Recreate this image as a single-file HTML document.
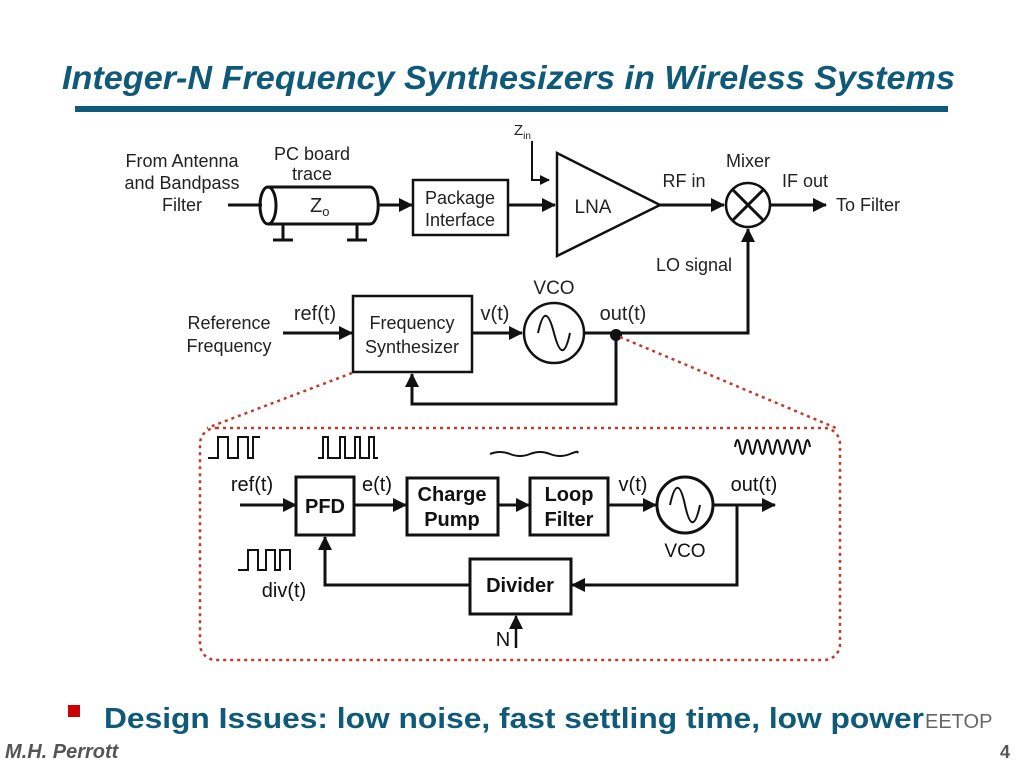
<!DOCTYPE html>
<html><head><meta charset="utf-8"><style>
html,body{margin:0;padding:0;background:#fff;}
svg{display:block;}
text{font-family:"Liberation Sans",Arial,sans-serif;}
</style></head><body>
<svg width="1022" height="764" viewBox="0 0 1022 764" xmlns="http://www.w3.org/2000/svg">
<defs>
<marker id="a" markerWidth="10" markerHeight="10" refX="9" refY="5" orient="auto" markerUnits="userSpaceOnUse"><path d="M0,0 L10,5 L0,10 z" fill="#111"/></marker>
<marker id="b" markerWidth="14" markerHeight="14" refX="13" refY="7" orient="auto" markerUnits="userSpaceOnUse"><path d="M0,0 L14,7 L0,14 z" fill="#111"/></marker>
</defs>
<text x="62" y="89" font-size="33" font-weight="bold" font-style="italic" fill="#0e5a78" textLength="893" lengthAdjust="spacingAndGlyphs">Integer-N Frequency Synthesizers in Wireless Systems</text>
<rect x="75" y="106" width="873" height="6" fill="#0e5a78"/>

<g fill="#222" font-size="18" text-anchor="middle">
<text x="182" y="167">From Antenna</text><text x="182" y="189">and Bandpass</text><text x="182" y="211">Filter</text>
<text x="312" y="160">PC board</text><text x="312" y="180">trace</text>
<text x="460" y="204">Package</text><text x="460" y="226">Interface</text>
<text x="593" y="213" font-size="19">LNA</text>
<text x="684" y="187">RF in</text><text x="748" y="167">Mixer</text><text x="805" y="187">IF out</text>
<text x="868" y="211">To Filter</text><text x="694" y="271">LO signal</text>
<text x="229" y="329">Reference</text><text x="229" y="352">Frequency</text>
<text x="315" y="320" font-size="20">ref(t)</text>
<text x="412" y="329">Frequency</text><text x="412" y="353">Synthesizer</text>
<text x="495" y="320" font-size="20">v(t)</text><text x="554" y="294" font-size="19">VCO</text>
<text x="623" y="320" font-size="20">out(t)</text>
</g>
<text x="514" y="135" font-size="15" fill="#222">Z<tspan font-size="10" dy="4">in</tspan></text>
<text x="310" y="212" font-size="20" fill="#222">Z<tspan font-size="13" dy="4">o</tspan></text>

<g stroke="#111" stroke-width="3" fill="none">
<line x1="228" y1="205" x2="262" y2="205"/>
<path d="M268,187 L370,187 A8,18 0 0 1 370,224 L268,224"/>
<ellipse cx="268" cy="205.5" rx="8" ry="18.5"/>
<path d="M283,224 V240 M273,240 H293 M357,224 V240 M347,240 H367"/>
<line x1="378" y1="205" x2="412" y2="205" marker-end="url(#b)"/>
<rect x="413" y="180" width="95" height="55" stroke-width="2.5"/>
<line x1="508" y1="205" x2="555" y2="205" marker-end="url(#b)"/>
<path d="M557,153 L557,256 L660,205 Z" stroke-width="2.5"/>
<path d="M532,141 V180 H549" stroke-width="2" marker-end="url(#a)"/>
<line x1="660" y1="205" x2="724" y2="205" marker-end="url(#b)"/>
<circle cx="748" cy="205" r="22" stroke-width="2.5"/>
<path d="M733,190 L763,220 M763,190 L733,220" stroke-width="3"/>
<line x1="770" y1="205" x2="826" y2="205" marker-end="url(#b)"/>
<path d="M584,333 H748 V229" marker-end="url(#b)"/>
<line x1="283" y1="333" x2="352" y2="333" marker-end="url(#b)"/>
<rect x="353" y="296" width="119" height="76" stroke-width="2.5"/>
<line x1="472" y1="333" x2="522" y2="333" marker-end="url(#b)"/>
<circle cx="554" cy="333" r="30" stroke-width="2.5"/>
<path d="M538,333 C543,310 548,310 554,333 C560,356 565,356 570,333" stroke-width="2"/>
<path d="M616,335 V404 H412 V374" marker-end="url(#b)"/>
</g>
<circle cx="616" cy="335" r="6" fill="#111"/>

<g stroke="#c0392b" stroke-width="2.5" stroke-dasharray="3,4" fill="none">
<line x1="352" y1="373" x2="207" y2="428"/>
<line x1="620" y1="337" x2="836" y2="428"/>
<rect x="200" y="428" width="640" height="232" rx="16"/>
</g>

<g fill="#111" font-size="20" text-anchor="middle">
<text x="252" y="491">ref(t)</text><text x="377" y="491">e(t)</text><text x="633" y="491">v(t)</text>
<text x="754" y="491">out(t)</text><text x="685" y="557" font-size="19">VCO</text>
<text x="284" y="597">div(t)</text><text x="503" y="646">N</text>
<g font-weight="bold">
<text x="325" y="513">PFD</text>
<text x="452" y="501">Charge</text><text x="452" y="526">Pump</text>
<text x="569" y="501">Loop</text><text x="569" y="526">Filter</text>
<text x="520" y="592">Divider</text>
</g></g>

<g stroke="#111" stroke-width="3" fill="none">
<line x1="240" y1="505" x2="296" y2="505" marker-end="url(#b)"/>
<rect x="296" y="477" width="58" height="58"/>
<line x1="354" y1="505" x2="406" y2="505" marker-end="url(#b)"/>
<rect x="407" y="478" width="91" height="57"/>
<line x1="498" y1="505" x2="529" y2="505" marker-end="url(#b)"/>
<rect x="530" y="478" width="78" height="57"/>
<line x1="608" y1="505" x2="656" y2="505" marker-end="url(#b)"/>
<circle cx="685" cy="505" r="28"/>
<path d="M670,505 C675,482 680,482 685,505 C690,528 695,528 700,505" stroke-width="2"/>
<line x1="713" y1="505" x2="775" y2="505" marker-end="url(#b)"/>
<path d="M737,505 V585 H572" marker-end="url(#b)"/>
<rect x="470" y="559" width="101" height="55"/>
<path d="M470,585 H325 V537" marker-end="url(#b)"/>
<line x1="516" y1="648" x2="516" y2="616" stroke-width="2.5" marker-end="url(#b)"/>
</g>
<g stroke="#111" stroke-width="2" fill="none">
<path d="M208,458 H218 V437 H228 V458 H238 V437 H248 V458 H253 V437 H260"/>
<path d="M318,458 H323 V437 H328 V458 H340 V437 H345 V458 H355 V437 H360 V458 H369 V437 H374 V458 H378"/>
<path d="M490,454 q10,-4 20,0 t20,0 t20,0 t20,0 t7,-1"/>
<path d="M735,447 q2.5,-14 5,0 t5,0 t5,0 t5,0 t5,0 t5,0 t5,0 t5,0 t5,0 t5,0 t5,0 t5,0 t5,0 t5,0 t5,0"/>
<path d="M238,570 H248 V550 H258 V570 H266 V550 H275 V570 H280 V550 H290 V570"/>
</g>

<rect x="68" y="705" width="12" height="12" fill="#cc0000"/>
<text x="104" y="728" font-size="29" font-weight="bold" fill="#0e5a78" textLength="820" lengthAdjust="spacingAndGlyphs">Design Issues:  low noise, fast settling time, low power</text>
<text x="925" y="728" font-size="20" fill="#666">EETOP</text>
<text x="5" y="758" font-size="20" font-weight="bold" font-style="italic" fill="#555">M.H. Perrott</text>
<text x="1000" y="758" font-size="18" font-weight="bold" fill="#555">4</text>
</svg>
</body></html>
